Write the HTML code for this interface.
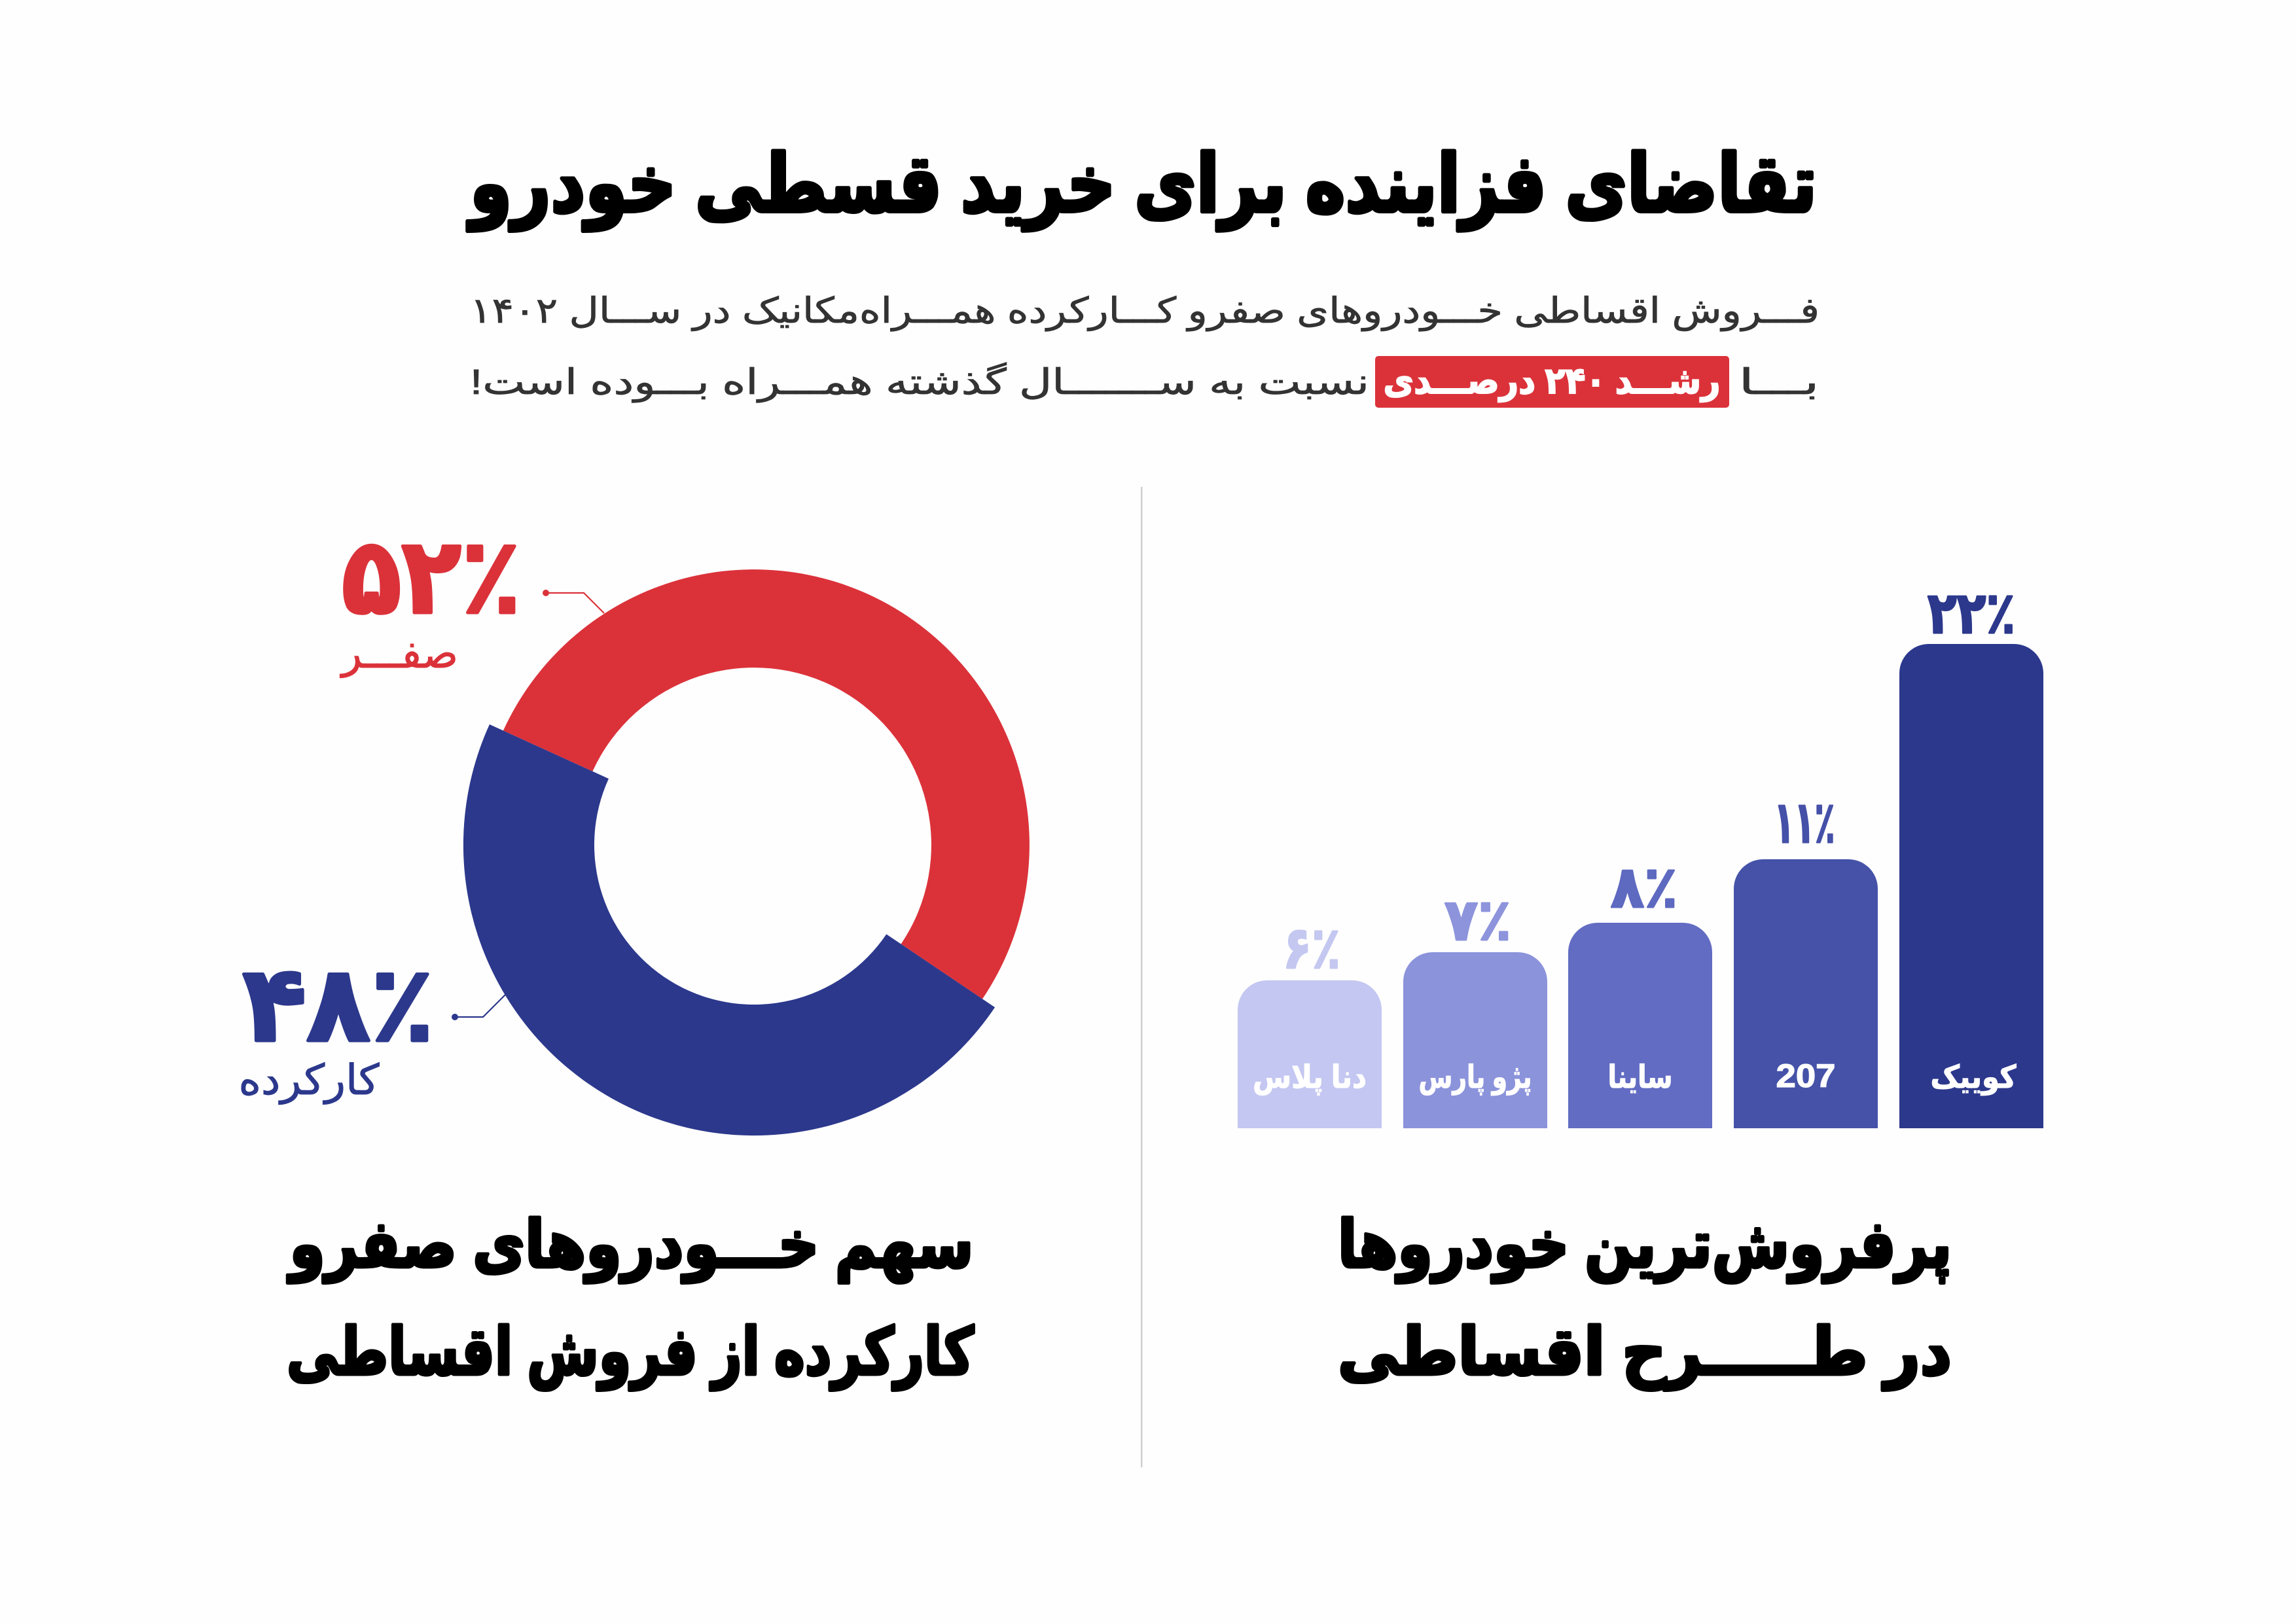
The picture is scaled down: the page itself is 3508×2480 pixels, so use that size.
<!DOCTYPE html>
<html>
<head>
<meta charset="utf-8">
<style>
html,body{margin:0;padding:0;background:#fefefe;}
svg{display:block;}
.fa{font-family:"Liberation Sans","DejaVu Sans",sans-serif;}
</style>
</head>
<body>
<svg width="3508" height="2480" viewBox="0 0 3508 2480" xmlns="http://www.w3.org/2000/svg">
<rect width="3508" height="2480" fill="#fefefe"/>

<!-- Title -->
<text class="fa" x="1747" y="323" font-size="122" font-weight="700" fill="#000" stroke="#000" stroke-width="6" stroke-linejoin="round" text-anchor="middle" direction="rtl" textLength="2058" lengthAdjust="spacingAndGlyphs">تقاضای فزاینده برای خرید قسطی خودرو</text>

<!-- Subtitle line 1 -->
<text class="fa" x="1749" y="493" font-size="54" fill="#333" stroke="#333" stroke-width="0.8" text-anchor="middle" direction="rtl" textLength="2062" lengthAdjust="spacingAndGlyphs">فـــروش اقساطی خـــودروهای صفرو کـــارکرده همـــراه‌مکانیک در ســـال ۱۴۰۲</text>

<!-- Subtitle line 2 -->
<text class="fa" x="2718" y="602" font-size="54" fill="#333" stroke="#333" stroke-width="0.8" text-anchor="middle" direction="rtl" textLength="123" lengthAdjust="spacingAndGlyphs">بـــا</text>
<rect x="2101" y="544" width="541" height="79" rx="5" fill="#db323a"/>
<text class="fa" x="2371" y="601" font-size="56" font-weight="700" fill="#fff" stroke="#fff" stroke-width="2" text-anchor="middle" direction="rtl" textLength="515" lengthAdjust="spacingAndGlyphs">رشـــد ۲۴۰ درصـــدی</text>
<text class="fa" x="1405" y="602" font-size="54" fill="#333" stroke="#333" stroke-width="0.8" text-anchor="middle" direction="rtl" textLength="1374" lengthAdjust="spacingAndGlyphs">نسبت به ســـــــال گذشته همـــراه بـــوده است!</text>

<!-- Divider -->
<rect x="1743" y="744" width="2.5" height="1498" fill="#cfcfcf"/>

<!-- Donut -->
<path d="M 768.88 1116.42 A 421 421 0 1 1 1501.03 1526.42 L 1376.67 1442.54 A 271 271 0 1 0 905.38 1178.62 Z" fill="#db323a"/>
<path d="M 1520.09 1539.28 A 444 444 0 0 1 747.95 1106.88 L 929.96 1189.82 A 244 244 0 0 0 1354.29 1427.44 Z" fill="#2c388c"/>

<!-- Leader lines -->
<circle cx="834" cy="906" r="5" fill="#db323a"/>
<polyline points="834,906 892,906 923,937" fill="none" stroke="#db323a" stroke-width="2.2"/>
<circle cx="695" cy="1554" r="5" fill="#2c388c"/>
<polyline points="695,1554 738,1554 772,1520" fill="none" stroke="#2c388c" stroke-width="2.2"/>

<!-- Donut labels -->
<text class="fa" x="659" y="936" font-size="160" font-weight="700" fill="#db323a" stroke="#db323a" stroke-width="5" stroke-linejoin="round" text-anchor="middle" textLength="274" lengthAdjust="spacingAndGlyphs">۵۲٪</text>
<text class="fa" x="611" y="1020" font-size="64" fill="#db323a" stroke="#db323a" stroke-width="1" text-anchor="middle" direction="rtl" textLength="178" lengthAdjust="spacingAndGlyphs">صفـــر</text>
<text class="fa" x="517" y="1590" font-size="160" font-weight="700" fill="#2c388c" stroke="#2c388c" stroke-width="5" stroke-linejoin="round" text-anchor="middle" textLength="293" lengthAdjust="spacingAndGlyphs">۴۸٪</text>
<text class="fa" x="472" y="1672" font-size="64" fill="#2c388c" stroke="#2c388c" stroke-width="1" text-anchor="middle" direction="rtl" textLength="215" lengthAdjust="spacingAndGlyphs">کارکرده</text>

<!-- Bars -->
<path d="M 1891 1724 L 1891 1543 A 45 45 0 0 1 1936 1498 L 2066 1498 A 45 45 0 0 1 2111 1543 L 2111 1724 Z" fill="#c4c7f1"/>
<path d="M 2144 1724 L 2144 1500 A 45 45 0 0 1 2189 1455 L 2319 1455 A 45 45 0 0 1 2364 1500 L 2364 1724 Z" fill="#8b93db"/>
<path d="M 2396 1724 L 2396 1455 A 45 45 0 0 1 2441 1410 L 2571 1410 A 45 45 0 0 1 2616 1455 L 2616 1724 Z" fill="#626cc2"/>
<path d="M 2649 1724 L 2649 1358 A 45 45 0 0 1 2694 1313 L 2824 1313 A 45 45 0 0 1 2869 1358 L 2869 1724 Z" fill="#4552a8"/>
<path d="M 2902 1724 L 2902 1029 A 45 45 0 0 1 2947 984 L 3077 984 A 45 45 0 0 1 3122 1029 L 3122 1724 Z" fill="#2c388c"/>

<!-- Bar value labels -->
<text class="fa" x="2004" y="1479" font-size="88" font-weight="700" fill="#c4c8f0" stroke="#c4c8f0" stroke-width="3" stroke-linejoin="round" text-anchor="middle" textLength="88" lengthAdjust="spacingAndGlyphs">۶٪</text>
<text class="fa" x="2258" y="1436" font-size="88" font-weight="700" fill="#8d94dc" stroke="#8d94dc" stroke-width="3" stroke-linejoin="round" text-anchor="middle" textLength="102" lengthAdjust="spacingAndGlyphs">۷٪</text>
<text class="fa" x="2512" y="1386" font-size="88" font-weight="700" fill="#5e69c0" stroke="#5e69c0" stroke-width="3" stroke-linejoin="round" text-anchor="middle" textLength="102" lengthAdjust="spacingAndGlyphs">۸٪</text>
<text class="fa" x="2757" y="1287" font-size="88" font-weight="700" fill="#4551a8" stroke="#4551a8" stroke-width="3" stroke-linejoin="round" text-anchor="middle" textLength="93" lengthAdjust="spacingAndGlyphs">۱۱٪</text>
<text class="fa" x="3012" y="967" font-size="88" font-weight="700" fill="#2c388c" stroke="#2c388c" stroke-width="3" stroke-linejoin="round" text-anchor="middle" textLength="134" lengthAdjust="spacingAndGlyphs">۲۲٪</text>

<!-- Bar inner labels -->
<text class="fa" x="2001" y="1662" font-size="48" font-weight="700" fill="#fff" stroke="#fff" stroke-width="1.2" text-anchor="middle" direction="rtl" textLength="174" lengthAdjust="spacingAndGlyphs">دنا پلاس</text>
<text class="fa" x="2254" y="1662" font-size="48" font-weight="700" fill="#fff" stroke="#fff" stroke-width="1.2" text-anchor="middle" direction="rtl" textLength="173" lengthAdjust="spacingAndGlyphs">پژو پارس</text>
<text class="fa" x="2506" y="1662" font-size="48" font-weight="700" fill="#fff" stroke="#fff" stroke-width="1.2" text-anchor="middle" direction="rtl" textLength="99" lengthAdjust="spacingAndGlyphs">ساینا</text>
<text class="fa" x="2759" y="1661" font-size="50" font-weight="700" fill="#fff" stroke="#fff" stroke-width="1.2" text-anchor="middle" textLength="91" lengthAdjust="spacingAndGlyphs">207</text>
<text class="fa" x="3015" y="1662" font-size="48" font-weight="700" fill="#fff" stroke="#fff" stroke-width="1.2" text-anchor="middle" direction="rtl" textLength="131" lengthAdjust="spacingAndGlyphs">کوییک</text>

<!-- Captions -->
<text class="fa" x="965" y="1936" font-size="100" font-weight="700" fill="#000" stroke="#000" stroke-width="5" stroke-linejoin="round" text-anchor="middle" direction="rtl" textLength="1045" lengthAdjust="spacingAndGlyphs">سهم خـــودروهای صفرو</text>
<text class="fa" x="963" y="2100" font-size="100" font-weight="700" fill="#000" stroke="#000" stroke-width="5" stroke-linejoin="round" text-anchor="middle" direction="rtl" textLength="1050" lengthAdjust="spacingAndGlyphs">کارکرده از فروش اقساطی</text>
<text class="fa" x="2513" y="1936" font-size="100" font-weight="700" fill="#000" stroke="#000" stroke-width="5" stroke-linejoin="round" text-anchor="middle" direction="rtl" textLength="938" lengthAdjust="spacingAndGlyphs">پرفروش‌ترین خودروها</text>
<text class="fa" x="2513" y="2100" font-size="100" font-weight="700" fill="#000" stroke="#000" stroke-width="5" stroke-linejoin="round" text-anchor="middle" direction="rtl" textLength="938" lengthAdjust="spacingAndGlyphs">در طـــــرح اقساطی</text>
</svg>
</body>
</html>
